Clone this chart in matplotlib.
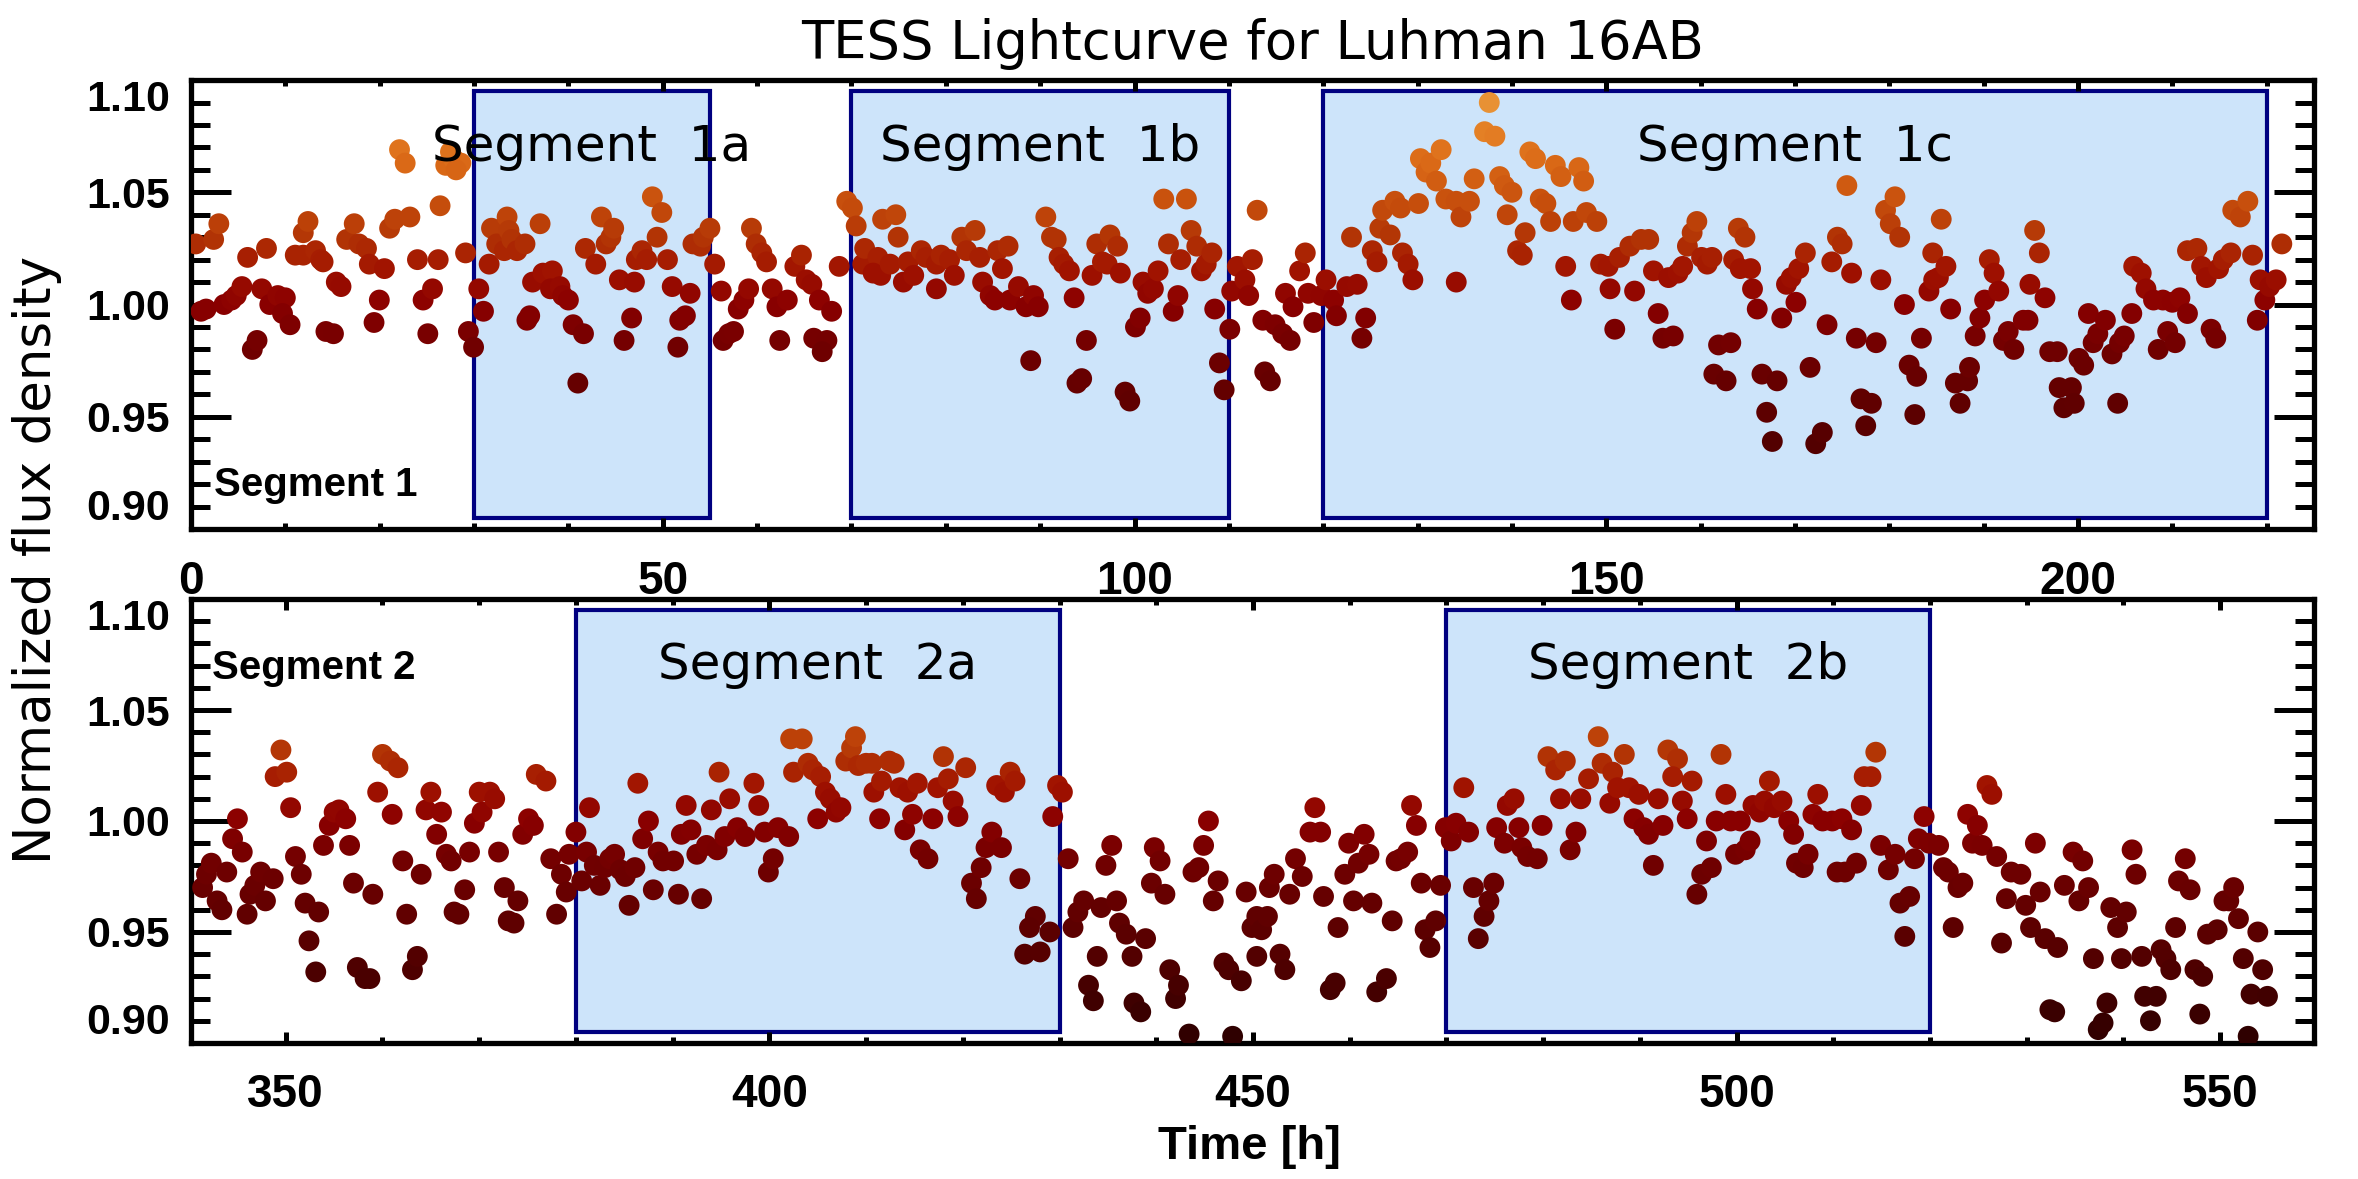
import matplotlib
matplotlib.use("Agg")
import matplotlib.pyplot as plt
import numpy as np
from matplotlib.colors import LinearSegmentedColormap, Normalize
from matplotlib.patches import Rectangle
from matplotlib.ticker import MultipleLocator

# Segment 1 (time in hours, normalized flux)
seg1_time = [
    0.5, 1.06, 1.6, 2.4, 2.95, 3.5, 4.3, 4.8, 5.4, 6.0, 6.5, 7.0, 7.5, 8.0, 8.35, 9.2, 10.0, 9.7, 10.5,
    11.05, 11.9, 11.9, 12.4, 13.2, 13.75, 14.0, 14.3, 15.1, 15.4, 15.9, 16.5, 17.3, 17.8, 18.6, 18.9,
    20.5, 19.96, 19.4, 21.05, 21.6, 22.1, 22.7, 23.2, 24.0, 24.6, 25.6, 25.1, 26.2, 26.4, 27.0, 27.8,
    27.5, 28.6, 28.1, 29.1, 29.4, 29.95, 30.5, 31.0, 31.6, 31.85, 32.4, 33.2, 33.5, 33.7, 34.0, 34.55,
    35.4, 35.6, 35.9, 36.2, 37.3, 38.3, 37.0, 38.1, 39.1, 39.4, 40.0, 40.5, 41.6, 41.0, 41.8, 42.9,
    43.5, 44.0, 44.5, 44.8, 45.4, 47.0, 45.9, 46.7, 47.2, 47.8, 48.3, 48.9, 49.9, 49.4, 50.5, 51.0,
    51.6, 51.8, 52.4, 52.9, 53.2, 54.0, 54.3, 55.0, 55.5, 56.2, 56.4, 57.0, 57.5, 58.0, 58.6, 59.1,
    59.4, 59.9, 60.5, 61.0, 61.6, 62.1, 62.4, 63.2, 64.0, 64.7, 65.2, 65.8, 66.6, 67.9, 66.0, 67.4,
    66.9, 68.7, 69.5, 70.1, 70.5, 71.2, 71.4, 72.8, 72.3, 73.1, 74.1, 73.3, 74.7, 74.95, 75.5, 76.0,
    76.6, 77.4, 77.9, 79.0, 79.5, 80.4, 79.0, 80.9, 81.7, 83.1, 82.2, 83.6, 83.9, 84.7, 85.2, 85.5,
    86.0, 86.6, 86.8, 87.7, 88.5, 89.3, 89.8, 89.0, 90.6, 91.2, 91.7, 92.0, 92.5, 93.1, 93.6, 93.9,
    94.4, 94.9, 95.5, 96.0, 97.4, 98.2, 96.6, 97.1, 98.5, 99.0, 99.5, 100.1, 100.6, 100.9, 101.4,
    102.0, 102.5, 103.6, 103.1, 105.5, 104.1, 104.6, 104.9, 106.0, 106.6, 107.1, 107.6, 108.2, 108.5,
    109.0, 109.5, 110.1, 110.3, 110.9, 111.7, 112.5, 112.1, 113.0, 113.6, 114.9, 115.7, 116.5, 113.8,
    114.4, 116.0, 116.8, 117.5, 118.1, 118.4, 119.0, 119.8, 120.3, 121.1, 121.4, 122.5, 123.6, 124.1,
    124.5, 123.0, 125.2, 125.7, 126.0, 127.1, 126.3, 127.6, 128.2, 130.1, 128.4, 129.0, 129.5, 130.3,
    130.9, 131.4, 132.5, 132.0, 133.0, 134.1, 134.6, 135.5, 134.1, 136.0, 137.1, 137.6, 138.2, 138.7,
    139.2, 140.0, 139.5, 140.6, 141.1, 141.4, 141.9, 142.5, 143.0, 143.6, 144.1, 144.6, 145.2, 147.1,
    147.6, 145.7, 146.3, 146.5, 147.9, 149.0, 149.4, 150.2, 151.4, 152.5, 153.7, 154.5, 150.4, 153.0,
    150.9, 155.0, 156.6, 157.6, 158.1, 155.5, 156.0, 157.1, 158.6, 159.1, 159.6, 160.1, 160.7, 161.2,
    161.9, 163.2, 161.4, 162.7, 163.5, 164.2, 165.3, 164.0, 164.7, 165.5, 166.0, 166.5, 168.1, 167.0,
    167.6, 168.6, 169.1, 169.6, 170.1, 170.4, 171.1, 171.6, 172.2, 172.9, 173.4, 173.9, 174.5, 175.0,
    176.0, 175.5, 176.5, 178.6, 177.0, 178.1, 177.5, 179.1, 179.6, 180.6, 180.1, 181.1, 181.6, 182.1,
    182.9, 182.7, 183.4, 184.2, 184.7, 185.2, 184.6, 186.0, 185.5, 186.5, 187.0, 188.3, 188.5, 187.5,
    189.1, 189.6, 190.1, 190.6, 191.1, 191.6, 192.1, 192.6, 193.2, 194.2, 194.7, 194.9, 195.4, 195.9,
    196.5, 197.0, 197.8, 198.0, 198.5, 199.3, 199.6, 200.1, 200.6, 201.1, 201.6, 202.1, 202.9, 203.6,
    204.4, 204.9, 205.7, 204.2, 205.9, 206.7, 207.2, 208.0, 209.0, 210.0, 210.8, 211.6, 208.5, 209.5,
    210.3, 211.6, 212.6, 213.1, 213.6, 214.1, 214.6, 214.9, 215.4, 216.2, 216.4, 217.2, 218.0, 218.5,
    219.0, 219.3, 219.8, 220.3, 221.0, 221.6,
]
seg1_flux = [
    1.027, 0.997, 0.998, 1.029, 1.036, 1.000, 1.002, 1.004, 1.008, 1.021, 0.980, 0.984, 1.007, 1.025,
    1.000, 1.004, 1.003, 0.996, 0.991, 1.022, 1.022, 1.032, 1.037, 1.024, 1.020, 1.019, 0.988, 0.987,
    1.010, 1.008, 1.029, 1.036, 1.027, 1.025, 1.018, 1.016, 1.002, 0.992, 1.034, 1.038, 1.069, 1.063,
    1.039, 1.020, 1.002, 1.007, 0.987, 1.020, 1.044, 1.062, 1.065, 1.068, 1.063, 1.060, 1.023, 0.988,
    0.981, 1.007, 0.997, 1.018, 1.034, 1.027, 1.024, 1.039, 1.033, 1.029, 1.024, 1.027, 0.993, 0.995,
    1.010, 1.014, 1.015, 1.036, 1.007, 1.008, 1.004, 1.002, 0.991, 0.987, 0.965, 1.025, 1.018, 1.039,
    1.027, 1.030, 1.034, 1.011, 1.010, 0.984, 0.994, 1.020, 1.024, 1.020, 1.048, 1.041, 1.030, 1.020,
    1.008, 0.981, 0.993, 0.995, 1.005, 1.027, 1.026, 1.030, 1.034, 1.018, 1.006, 0.984, 0.987, 0.988,
    0.998, 1.002, 1.007, 1.034, 1.027, 1.023, 1.019, 1.007, 0.999, 0.984, 1.002, 1.017, 1.022, 1.011,
    1.009, 1.002, 0.997, 0.985, 0.984, 0.979, 1.017, 1.046, 1.043, 1.035, 1.018, 1.025, 1.021, 1.014,
    1.013, 1.018, 1.038, 1.040, 1.030, 1.010, 1.019, 1.013, 1.024, 1.021, 1.018, 1.022, 1.020, 1.007,
    1.013, 1.030, 1.033, 1.024, 1.021, 1.010, 1.004, 1.002, 1.024, 1.016, 1.026, 1.002, 1.008, 0.999,
    1.004, 0.999, 0.975, 1.039, 1.030, 1.029, 1.021, 1.018, 1.015, 1.003, 0.965, 0.967, 0.984, 1.013,
    1.027, 1.031, 1.026, 1.019, 1.018, 1.014, 0.961, 0.957, 0.990, 0.994, 1.010, 1.005, 1.007, 1.015,
    1.027, 1.047, 1.047, 0.997, 1.004, 1.020, 1.033, 1.026, 1.015, 1.018, 1.023, 0.998, 0.974, 0.962,
    0.989, 1.006, 1.017, 1.011, 1.020, 1.004, 1.042, 0.993, 0.991, 0.987, 0.984, 0.970, 0.966, 1.005,
    0.999, 1.015, 1.023, 1.005, 0.992, 1.004, 1.011, 1.002, 0.995, 1.008, 1.009, 0.985, 0.994, 1.030,
    1.024, 1.019, 1.034, 1.031, 1.042, 1.046, 1.043, 1.045, 1.023, 1.018, 1.011, 1.065, 1.059, 1.063,
    1.069, 1.055, 1.047, 1.046, 1.039, 1.046, 1.010, 1.056, 1.077, 1.090, 1.075, 1.057, 1.053, 1.050,
    1.040, 1.024, 1.022, 1.032, 1.068, 1.065, 1.047, 1.045, 1.037, 1.062, 1.057, 1.061, 1.055, 1.017,
    1.002, 1.037, 1.041, 1.037, 1.018, 1.017, 1.021, 1.026, 1.029, 1.029, 1.007, 1.006, 0.989, 1.015,
    1.012, 1.014, 1.017, 0.996, 0.985, 0.986, 1.026, 1.032, 1.037, 1.021, 1.018, 1.021, 0.982, 0.983,
    0.969, 0.966, 1.020, 1.016, 1.016, 1.034, 1.030, 1.007, 0.998, 0.969, 0.966, 0.952, 0.939, 0.994,
    1.009, 1.012, 1.001, 1.016, 1.023, 0.972, 0.938, 0.943, 0.991, 1.019, 1.030, 1.027, 1.014, 1.053,
    0.985, 0.983, 0.958, 0.956, 0.946, 1.011, 1.042, 1.048, 1.036, 1.030, 1.000, 0.973, 0.968, 0.951,
    0.985, 1.006, 1.011, 1.012, 1.023, 1.017, 1.038, 0.998, 0.965, 0.966, 0.972, 0.956, 0.986, 0.994,
    1.002, 1.020, 1.014, 1.006, 0.984, 0.988, 0.980, 0.993, 0.993, 1.009, 1.033, 1.023, 1.003, 0.979,
    0.979, 0.963, 0.954, 0.963, 0.956, 0.976, 0.973, 0.996, 0.983, 0.987, 0.993, 0.978, 0.983, 0.986,
    0.996, 0.956, 1.017, 1.014, 1.007, 1.002, 1.002, 1.001, 1.003, 0.996, 0.980, 0.988, 0.983, 1.024,
    1.025, 1.017, 1.012, 0.989, 0.985, 1.016, 1.020, 1.023, 1.042, 1.039, 1.046, 1.022, 0.993, 1.011,
    1.002, 1.008, 1.011, 1.027,
]

# Segment 2
seg2_time = [
    341.4, 341.8, 342.3, 342.9, 343.4, 343.9, 344.5, 345.0, 345.5, 346.0, 346.3, 346.8, 347.4, 347.9,
    348.7, 348.9, 349.5, 350.1, 350.5, 351.0, 351.6, 352.0, 353.4, 352.4, 353.1, 353.9, 354.5, 355.0,
    355.5, 356.2, 356.6, 357.0, 357.4, 358.2, 358.7, 359.0, 359.5, 360.0, 360.8, 361.6, 361.0, 362.1,
    362.5, 363.1, 363.6, 364.0, 364.5, 365.0, 366.1, 365.6, 366.6, 367.1, 367.4, 367.9, 368.5, 369.0,
    369.5, 370.0, 370.3, 371.1, 371.6, 372.0, 372.6, 373.0, 373.6, 374.0, 374.5, 375.1, 375.6, 375.9,
    376.9, 377.4, 378.0, 378.5, 379.0, 380.0, 379.3, 380.6, 381.1, 381.4, 381.9, 382.5, 383.0, 383.5,
    384.0, 384.6, 385.1, 386.1, 385.5, 386.4, 386.9, 387.5, 388.0, 388.5, 389.0, 390.1, 390.6, 390.9,
    391.4, 391.9, 392.5, 393.0, 393.5, 394.0, 394.6, 394.8, 395.4, 395.9, 396.7, 397.5, 398.4, 398.9,
    399.5, 399.9, 400.4, 400.9, 402.0, 402.2, 402.5, 403.4, 404.0, 404.5, 405.3, 405.8, 406.3, 405.0,
    406.9, 407.4, 407.9, 408.5, 408.9, 409.2, 410.0, 410.6, 410.8, 411.6, 412.4, 412.9, 411.4, 413.5,
    414.3, 415.3, 414.0, 414.8, 416.9, 415.6, 416.4, 417.4, 418.0, 418.5, 419.0, 419.5, 420.3, 420.9,
    421.4, 421.9, 422.4, 423.0, 424.0, 423.5, 424.3, 424.9, 425.4, 425.9, 426.4, 427.5, 428.0, 426.9,
    429.0, 429.3, 429.8, 430.3, 430.9, 431.4, 431.9, 432.5, 433.0, 433.5, 433.9, 434.3, 434.8, 435.4,
    435.9, 436.2, 436.9, 437.5, 437.7, 438.4, 438.9, 439.5, 439.8, 440.4, 440.9, 441.4, 442.0, 442.3,
    443.4, 443.8, 444.4, 444.9, 445.4, 445.9, 446.4, 447.0, 447.5, 448.8, 447.9, 449.3, 449.9, 450.4,
    450.9, 451.5, 450.4, 451.7, 452.2, 452.8, 453.3, 453.8, 454.4, 455.1, 455.9, 456.4, 457.0, 457.3,
    458.0, 458.5, 458.8, 459.5, 459.9, 460.4, 460.9, 461.5, 462.0, 462.3, 462.8, 463.8, 464.4, 464.8,
    465.3, 466.0, 466.4, 466.9, 467.4, 467.8, 468.3, 468.9, 469.4, 469.9, 470.5, 471.0, 472.3, 471.8,
    472.8, 473.3, 473.9, 474.4, 474.9, 475.2, 476.0, 476.3, 477.0, 477.5, 477.8, 478.4, 479.4, 479.9,
    480.5, 481.3, 482.3, 481.8, 482.8, 483.4, 483.9, 484.7, 485.7, 486.1, 487.2, 486.9, 487.7, 488.4,
    488.9, 489.9, 489.4, 490.4, 490.9, 491.9, 491.4, 492.4, 492.9, 493.9, 493.4, 494.4, 494.9, 495.4,
    495.9, 496.4, 497.4, 496.9, 497.9, 498.4, 498.9, 499.4, 500.4, 499.9, 500.9, 501.4, 501.7, 502.4,
    502.9, 503.4, 503.9, 504.7, 505.4, 505.9, 506.2, 506.9, 507.4, 507.9, 508.4, 508.9, 509.9, 510.9,
    511.9, 510.4, 511.2, 512.4, 512.9, 513.2, 513.9, 514.4, 514.9, 515.7, 516.4, 516.9, 517.9, 517.4,
    518.4, 518.8, 519.4, 519.9, 520.9, 521.4, 521.9, 522.9, 523.4, 522.4, 523.9, 524.4, 524.9, 525.4,
    525.9, 526.4, 526.9, 527.4, 527.9, 528.4, 529.4, 529.9, 530.4, 530.9, 531.4, 531.9, 533.2, 532.4,
    532.9, 533.9, 534.8, 535.4, 535.8, 536.4, 536.9, 537.4, 537.9, 538.3, 538.7, 539.4, 540.3, 539.8,
    540.9, 541.3, 541.9, 542.2, 543.4, 542.8, 543.9, 544.4, 544.9, 545.4, 545.7, 546.4, 546.9, 547.4,
    548.2, 547.9, 548.7, 549.7, 550.4, 550.9, 551.4, 551.9, 552.4, 553.2, 552.9, 553.9, 554.4, 554.9,
]
seg2_flux = [
    0.970, 0.976, 0.981, 0.964, 0.960, 0.977, 0.992, 1.001, 0.986, 0.958, 0.967, 0.971, 0.977, 0.964,
    0.974, 1.020, 1.032, 1.022, 1.006, 0.984, 0.976, 0.963, 0.959, 0.946, 0.932, 0.989, 0.998, 1.004,
    1.005, 1.001, 0.989, 0.972, 0.934, 0.929, 0.929, 0.967, 1.013, 1.030, 1.027, 1.024, 1.003, 0.982,
    0.958, 0.933, 0.939, 0.976, 1.005, 1.013, 1.004, 0.994, 0.985, 0.982, 0.959, 0.958, 0.969, 0.986,
    0.999, 1.013, 1.004, 1.013, 1.010, 0.986, 0.970, 0.955, 0.954, 0.964, 0.994, 1.001, 0.998, 1.021,
    1.018, 0.983, 0.958, 0.976, 0.968, 0.995, 0.985, 0.973, 0.986, 1.006, 0.980, 0.971, 0.979, 0.983,
    0.985, 0.978, 0.975, 0.979, 0.962, 1.017, 0.992, 1.000, 0.969, 0.986, 0.982, 0.982, 0.967, 0.994,
    1.007, 0.996, 0.985, 0.965, 0.989, 1.005, 0.987, 1.022, 0.993, 1.010, 0.997, 0.993, 1.017, 1.007,
    0.995, 0.977, 0.983, 0.997, 0.993, 1.037, 1.022, 1.037, 1.026, 1.023, 1.020, 1.013, 1.010, 1.001,
    1.004, 1.006, 1.027, 1.033, 1.038, 1.025, 1.026, 1.026, 1.013, 1.018, 1.027, 1.026, 1.001, 1.015,
    1.013, 1.017, 0.996, 1.003, 1.001, 0.987, 0.983, 1.015, 1.029, 1.019, 1.009, 1.002, 1.024, 0.972,
    0.965, 0.979, 0.988, 0.995, 0.988, 1.016, 1.013, 1.022, 1.018, 0.974, 0.940, 0.957, 0.941, 0.952,
    0.950, 1.002, 1.016, 1.013, 0.983, 0.952, 0.959, 0.964, 0.926, 0.919, 0.939, 0.961, 0.980, 0.989,
    0.964, 0.954, 0.949, 0.939, 0.918, 0.914, 0.947, 0.972, 0.988, 0.982, 0.967, 0.933, 0.920, 0.926,
    0.904, 0.977, 0.979, 0.989, 1.000, 0.964, 0.973, 0.936, 0.933, 0.928, 0.903, 0.968, 0.952, 0.957,
    0.951, 0.957, 0.939, 0.970, 0.976, 0.940, 0.933, 0.967, 0.983, 0.975, 0.995, 1.006, 0.995, 0.966,
    0.924, 0.927, 0.952, 0.976, 0.990, 0.964, 0.981, 0.994, 0.985, 0.963, 0.923, 0.929, 0.955, 0.982,
    0.983, 0.986, 1.007, 0.998, 0.972, 0.951, 0.943, 0.955, 0.971, 0.997, 0.991, 0.999, 0.995, 1.015,
    0.970, 0.947, 0.957, 0.964, 0.972, 0.997, 0.990, 1.007, 1.010, 0.997, 0.988, 0.984, 0.983, 0.998,
    1.029, 1.023, 1.027, 1.010, 0.987, 0.995, 1.010, 1.019, 1.038, 1.026, 1.022, 1.008, 1.015, 1.030,
    1.015, 1.012, 1.001, 0.997, 0.994, 1.010, 0.980, 0.998, 1.032, 1.028, 1.020, 1.009, 1.001, 1.018,
    0.967, 0.976, 0.979, 0.991, 1.000, 1.030, 1.012, 1.000, 1.000, 0.985, 0.987, 0.991, 1.007, 1.004,
    1.009, 1.018, 1.006, 1.009, 1.000, 0.994, 0.981, 0.979, 0.985, 1.003, 1.012, 1.000, 1.000, 1.001,
    0.996, 0.977, 0.977, 0.981, 1.007, 1.020, 1.020, 1.031, 0.989, 0.978, 0.985, 0.963, 0.966, 0.948,
    0.983, 0.992, 1.002, 0.990, 0.989, 0.979, 0.977, 0.970, 0.972, 0.952, 1.003, 0.990, 0.998, 0.989,
    1.016, 1.012, 0.984, 0.945, 0.965, 0.977, 0.976, 0.962, 0.952, 0.990, 0.968, 0.947, 0.943, 0.915,
    0.914, 0.971, 0.986, 0.964, 0.982, 0.970, 0.938, 0.906, 0.909, 0.918, 0.961, 0.952, 0.959, 0.938,
    0.987, 0.976, 0.939, 0.921, 0.921, 0.910, 0.942, 0.938, 0.933, 0.952, 0.973, 0.983, 0.969, 0.933,
    0.930, 0.913, 0.949, 0.951, 0.964, 0.964, 0.970, 0.956, 0.938, 0.922, 0.903, 0.950, 0.933, 0.921,
]

if len(seg1_time) != len(seg1_flux) or len(seg2_time) != len(seg2_flux):
    raise SystemExit(f"length mismatch {len(seg1_time)} {len(seg1_flux)} {len(seg2_time)} {len(seg2_flux)}")

# highlighted sub-segments (start, end in hours) and their names
seg1_boxes = [(30, 55), (70, 110), (120, 220)]
seg1_names = ["Segment  1a", "Segment  1b", "Segment  1c"]
seg2_boxes = [(380, 430), (470, 520)]
seg2_names = ["Segment  2a", "Segment  2b"]

# colour ramp: dark red for faint points to orange for bright ones
flux_stops = [0.90, 0.94, 0.98, 1.00, 1.015, 1.03, 1.045, 1.065, 1.08, 1.10]
stop_colors = ["#2d0000", "#550000", "#700000", "#8a0000", "#a01200", "#b23405",
               "#c64e0c", "#dc6c18", "#e68428", "#ea9c3e"]
stop_pos = np.round((np.array(flux_stops) - 0.9) / 0.2, 4)
cmap = LinearSegmentedColormap.from_list("lc", list(zip(stop_pos, stop_colors)))
norm = Normalize(vmin=0.9, vmax=1.1)

REG = "DejaVu Sans"
BOLD = ["Liberation Sans", "DejaVu Sans"]

fig = plt.figure(figsize=(23.58, 11.79), dpi=100)
ax1 = fig.add_axes([0.0810, 0.5513, 0.9003, 0.3808])
ax2 = fig.add_axes([0.0810, 0.1154, 0.9003, 0.3765])


def style_axes(ax, xlim):
    ax.set_xlim(*xlim)
    ax.set_ylim(0.90, 1.10)
    ax.xaxis.set_major_locator(MultipleLocator(50))
    ax.xaxis.set_minor_locator(MultipleLocator(10))
    ax.set_yticks([0.90, 0.95, 1.00, 1.05, 1.10])
    ax.yaxis.set_minor_locator(MultipleLocator(0.01))
    ax.set_yticklabels(["0.90", "0.95", "1.00", "1.05", "1.10"])
    for s in ax.spines.values():
        s.set_linewidth(3.8)
    ax.tick_params(axis="both", which="both", direction="in", top=True, right=True, width=3.6)
    ax.tick_params(axis="y", which="major", length=29, pad=15)
    ax.tick_params(axis="y", which="minor", length=14)
    ax.tick_params(axis="x", which="major", length=8, pad=22)
    ax.tick_params(axis="x", which="minor", length=4)
    for lab in ax.get_xticklabels() + ax.get_yticklabels():
        lab.set_fontfamily(BOLD)
        lab.set_fontweight("bold")
    for lab in ax.get_xticklabels():
        lab.set_fontsize(33)
    for lab in ax.get_yticklabels():
        lab.set_fontsize(31)
    ticks = ax.yaxis.get_major_ticks()
    ticks[0].label1.set_verticalalignment("bottom")
    ticks[-1].label1.set_verticalalignment("top")


def draw_panel(ax, time, flux, boxes, names):
    for (x0, x1), name in zip(boxes, names):
        ax.add_patch(Rectangle((x0, 0.905), x1 - x0, 0.19, facecolor="#cde4fa",
                               edgecolor="#000080", linewidth=3, zorder=1))
        ax.text((x0 + x1) / 2, 1.064, name, ha="center", va="baseline",
                fontsize=36, family=REG, zorder=4)
    ax.scatter(time, flux, c=flux, cmap=cmap, norm=norm, s=225, linewidths=0, zorder=3)


draw_panel(ax1, seg1_time, seg1_flux, seg1_boxes, seg1_names)
draw_panel(ax2, seg2_time, seg2_flux, seg2_boxes, seg2_names)
style_axes(ax1, (0, 225))
style_axes(ax2, (340.2, 559.7))

ax1.text(2.4, 0.9147, "Segment 1", fontsize=29, family=BOLD, fontweight="bold", va="baseline")
ax2.text(342.4, 1.064, "Segment 2", fontsize=29, family=BOLD, fontweight="bold", va="baseline")

fig.text(0.531, 0.950, "TESS Lightcurve for Luhman 16AB", ha="center", va="baseline",
         fontsize=38, family=REG)
fig.text(0.0157, 0.525, "Normalized flux density", rotation=90, ha="center", va="center",
         fontsize=37, family=REG)
fig.text(0.530, 0.017, "Time [h]", ha="center", va="baseline", fontsize=34,
         family=BOLD, fontweight="bold")

fig.savefig("out.png", dpi=100)
